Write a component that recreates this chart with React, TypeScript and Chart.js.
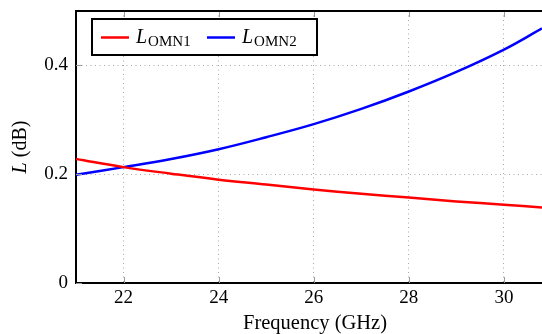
import React, { useEffect, useRef } from "react";
import { Chart, registerables } from "chart.js";

Chart.register(...registerables);

const freqs = [21, 22, 23, 24, 25, 26, 27, 28, 29, 30, 30.8];
const omn1 = [0.228, 0.213, 0.201, 0.19, 0.181, 0.172, 0.164, 0.157, 0.15, 0.144, 0.139];
const omn2 = [0.199, 0.213, 0.228, 0.246, 0.268, 0.292, 0.32, 0.352, 0.388, 0.429, 0.468];
const xTicks = [22, 24, 26, 28, 30];
const yTicks = [0, 0.2, 0.4];
const seriesNames = ["OMN1", "OMN2"];
const seriesColors = ["#ff0000", "#0000ff"];

const SERIF = '"Liberation Serif", "DejaVu Serif", serif';

const decorPlugin = {
  id: "decor",
  afterDraw(chart: any) {
    const ctx = chart.ctx as CanvasRenderingContext2D;
    const area = chart.chartArea;
    const xs = chart.scales.x;
    const ys = chart.scales.y;
    ctx.save();
    // inside tick marks
    ctx.strokeStyle = "#9a9a9a";
    ctx.lineWidth = 1;
    xTicks.forEach((t) => {
      const px = Math.round(xs.getPixelForValue(t)) + 0.5;
      ctx.beginPath();
      ctx.moveTo(px, area.bottom);
      ctx.lineTo(px, area.bottom - 6);
      ctx.moveTo(px, area.top);
      ctx.lineTo(px, area.top + 6);
      ctx.stroke();
    });
    yTicks.forEach((t) => {
      const py = Math.round(ys.getPixelForValue(t)) + 0.5;
      ctx.beginPath();
      ctx.moveTo(area.left, py);
      ctx.lineTo(area.left + 6, py);
      ctx.stroke();
    });
    // top border
    ctx.strokeStyle = "#000";
    ctx.lineWidth = 2;
    ctx.beginPath();
    ctx.moveTo(area.left - 1, area.top);
    ctx.lineTo(area.right, area.top);
    ctx.stroke();

    // legend
    const bx = area.left + 16;
    const by = area.top + 8;
    const bw = 225;
    const bh = 36;
    ctx.fillStyle = "#fff";
    ctx.fillRect(bx, by, bw, bh);
    ctx.strokeStyle = "#000";
    ctx.lineWidth = 2;
    ctx.strokeRect(bx, by, bw, bh);
    const items = [
      { lx: bx + 9, tx: bx + 44 },
      { lx: bx + 115, tx: bx + 150 },
    ];
    items.forEach((it, i) => {
      ctx.strokeStyle = seriesColors[i];
      ctx.lineWidth = 2.5;
      ctx.beginPath();
      ctx.moveTo(it.lx, by + 18.5);
      ctx.lineTo(it.lx + 28, by + 18.5);
      ctx.stroke();
      ctx.fillStyle = "#000";
      ctx.textBaseline = "alphabetic";
      ctx.textAlign = "left";
      ctx.font = "italic 20px " + SERIF;
      ctx.fillText("L", it.tx, by + 24);
      const lw = ctx.measureText("L").width;
      ctx.font = "15px " + SERIF;
      ctx.fillText(seriesNames[i], it.tx + lw + 1, by + 27);
    });

    // x title
    ctx.fillStyle = "#000";
    ctx.font = "20.5px " + SERIF;
    ctx.textAlign = "center";
    ctx.textBaseline = "alphabetic";
    ctx.fillText("Frequency (GHz)", 315, 329);

    // y title
    ctx.save();
    ctx.translate(26, (area.top + area.bottom) / 2);
    ctx.rotate(-Math.PI / 2);
    ctx.font = "italic 20px " + SERIF;
    const w1 = ctx.measureText("L").width;
    ctx.font = "20px " + SERIF;
    const w2 = ctx.measureText(" (dB)").width;
    const start = -(w1 + w2) / 2;
    ctx.textAlign = "left";
    ctx.font = "italic 20px " + SERIF;
    ctx.fillText("L", start, 0);
    ctx.font = "20px " + SERIF;
    ctx.fillText(" (dB)", start + w1, 0);
    ctx.restore();

    ctx.restore();
  },
};

export default function App() {
  const ref = useRef<HTMLCanvasElement | null>(null);
  useEffect(() => {
    document.body.style.margin = "0";
    if (!ref.current) return;
    const chart = new Chart(ref.current, {
      type: "line",
      data: {
        datasets: [
          {
            label: "OMN1",
            data: freqs.map((f, i) => ({ x: f, y: omn1[i] })),
            borderColor: seriesColors[0],
            borderWidth: 2.5,
            pointRadius: 0,
            tension: 0.4,
            fill: false,
          },
          {
            label: "OMN2",
            data: freqs.map((f, i) => ({ x: f, y: omn2[i] })),
            borderColor: seriesColors[1],
            borderWidth: 2.5,
            pointRadius: 0,
            tension: 0.4,
            fill: false,
          },
        ],
      },
      options: {
        animation: false,
        responsive: false,
        layout: { padding: { top: 11, right: 0, left: 0, bottom: 0 } },
        plugins: { legend: { display: false }, tooltip: { enabled: false } },
        scales: {
          x: {
            type: "linear",
            min: 21,
            max: 30.8,
            afterBuildTicks: (s: any) => {
              s.ticks = xTicks.map((v) => ({ value: v }));
            },
            afterFit: (s: any) => {
              s.height = 51;
              s.paddingLeft = 0;
              s.paddingRight = 0;
            },
            ticks: {
              color: "#000",
              font: { family: SERIF, size: 19 },
              padding: 4,
              maxRotation: 0,
              autoSkip: false,
              callback: (v: any) => String(v),
            },
            grid: { color: "#a8a8a8", lineWidth: 1, drawTicks: false },
            border: { display: true, color: "#000", width: 2, dash: [1, 3.5] },
          },
          y: {
            min: 0,
            max: 0.5,
            afterBuildTicks: (s: any) => {
              s.ticks = yTicks.map((v) => ({ value: v }));
            },
            afterFit: (s: any) => {
              s.width = 76;
              s.paddingTop = 0;
              s.paddingBottom = 0;
            },
            ticks: {
              color: "#000",
              font: { family: SERIF, size: 19 },
              padding: 8,
              autoSkip: false,
              callback: (v: any) => (v === 0 ? "0" : String(v)),
            },
            grid: { color: "#a8a8a8", lineWidth: 1, drawTicks: false },
            border: { display: true, color: "#000", width: 2, dash: [1, 3.5] },
          },
        },
      },
      plugins: [decorPlugin],
    } as any);
    return () => chart.destroy();
  }, []);
  return (
    <div style={{ width: 542, height: 334 }}>
      <canvas ref={ref} width={542} height={334} style={{ width: 542, height: 334, display: "block" }} />
    </div>
  );
}
